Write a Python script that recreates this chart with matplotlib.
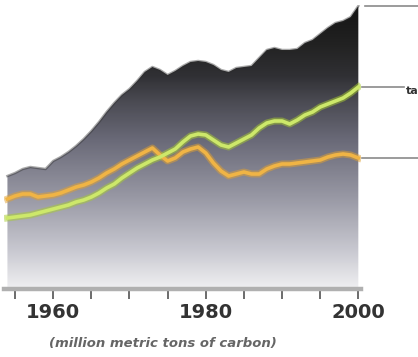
import numpy as np
import matplotlib
matplotlib.use('Agg')
import matplotlib.pyplot as plt
from matplotlib.colors import LinearSegmentedColormap
import matplotlib.transforms as mtransforms

# emissions, million metric tons of carbon
years = list(range(1954, 2001))
total = [555, 570, 590, 600, 595, 590, 630, 650, 675, 705,
         740, 780, 825, 875, 920, 960, 990, 1030, 1075, 1100,
         1085, 1060, 1080, 1105, 1125, 1130, 1125, 1110, 1085, 1075,
         1095, 1100, 1105, 1145, 1185, 1195, 1185, 1185, 1190, 1220,
         1235, 1265, 1295, 1320, 1330, 1350, 1405]
orange_series = [440, 455, 465, 465, 450, 455, 460, 470, 485, 500,
                 510, 525, 545, 570, 590, 615, 635, 655, 675, 695,
                 660, 630, 645, 675, 690, 700, 670, 620, 580, 555,
                 565, 575, 565, 565, 590, 605, 615, 615, 620, 625,
                 630, 635, 650, 660, 665, 660, 645]
green_series = [345, 350, 355, 360, 370, 380, 390, 400, 410, 425,
                435, 450, 470, 495, 515, 545, 570, 595, 615, 635,
                650, 670, 690, 725, 755, 765, 760, 735, 710, 700,
                720, 740, 760, 795, 820, 830, 830, 815, 835, 860,
                875, 900, 915, 930, 945, 970, 1000]
tick_years = list(range(1955, 2001, 5))
tick_labels = ['', '1960', '', '', '', '1980', '', '', '', '2000']
caption = '(million metric tons of carbon)'
side_label = 'ta'

W, H = 418, 357
fig = plt.figure(figsize=(W / 100, H / 100), dpi=100)
ax = fig.add_axes([4 / W, (H - 287) / H, 357 / W, 282 / H])
ax.set_xlim(1953.55, 2000.35)
ax.set_ylim(0, 1410)
ax.patch.set_alpha(0)

# gradient fill under the total curve
cmap = LinearSegmentedColormap.from_list('g', [
    (0.0, '#eeeef0'), (0.13, '#c8c8d0'), (0.31, '#9a9aa6'),
    (0.52, '#6a6a78'), (0.66, '#4a4a52'), (0.75, '#303034'),
    (0.86, '#222222'), (1.0, '#141414')])
grad = np.linspace(0, 1, 256).reshape(-1, 1)
poly = ax.fill_between(years, 0, total, color='none', lw=0)
img = ax.imshow(grad, extent=[1953.55, 2000.35, 0, 1410], origin='lower',
                aspect='auto', cmap=cmap, zorder=1)
img.set_clip_path(poly.get_paths()[0], transform=ax.transData)
ax.plot(years, total, color='#2a2a2a', lw=1.8, alpha=0.4, zorder=2)

# glowing lines
ax.plot(years, orange_series, color='#e0a030', lw=5.0, alpha=0.5, zorder=3)
ax.plot(years, orange_series, color='#f0b445', lw=2.6, zorder=4)
ax.plot(years, green_series, color='#a8cc30', lw=5.0, alpha=0.5, zorder=3)
ax.plot(years, green_series, color='#cde86a', lw=2.6, zorder=4)

# side leader lines
tr = mtransforms.blended_transform_factory(ax.transAxes, ax.transData)
ax.plot([1.011, 1.16], [total[-1], total[-1]], color='#8a8a8a', lw=1.2,
        transform=tr, clip_on=False)
ax.plot([1.003, 1.12], [green_series[-1]] * 2, color='#8a8a8a', lw=1.2,
        transform=tr, clip_on=False)
ax.plot([1.003, 1.16], [orange_series[-1]] * 2, color='#8a8a8a', lw=1.2,
        transform=tr, clip_on=False)
ax.text(1.127, green_series[-1] - 20, side_label, transform=tr, fontsize=8,
        fontweight='bold', color='#333333', va='center', ha='left')

# axis styling
for s in ['top', 'left', 'right']:
    ax.spines[s].set_visible(False)
ax.spines['bottom'].set_color('#b0b0b0')
ax.spines['bottom'].set_linewidth(3.2)
ax.spines['bottom'].set_position(('outward', 1.5))
ax.set_yticks([])
ax.set_xticks(tick_years)
ax.set_xticklabels(tick_labels)
ax.tick_params(axis='x', direction='out', length=7, width=1.1, color='#444444',
               pad=3, labelsize=14, labelcolor='#333333')
for lbl in ax.get_xticklabels():
    lbl.set_fontweight('bold')

fig.text(163 / W, 1 - 343 / H, caption, fontsize=9.5, style='italic',
         fontweight='bold', color='#666666', ha='center', va='center')

fig.savefig('out.png', dpi=100)
